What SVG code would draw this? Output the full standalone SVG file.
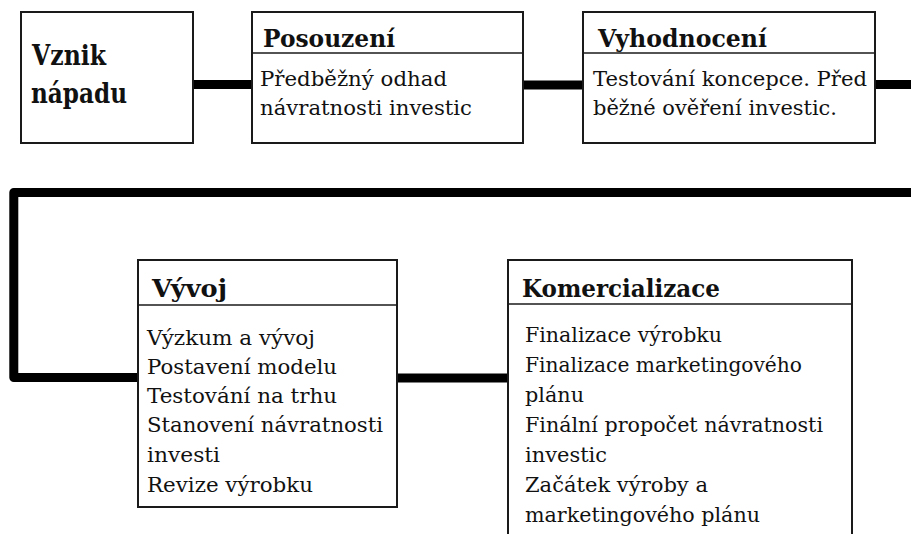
<svg xmlns="http://www.w3.org/2000/svg" width="911" height="534" viewBox="0 0 911 534">
<style>
.box{fill:#fff;stroke:#1a1a1a;stroke-width:2}
.div{stroke:#1a1a1a;stroke-width:1.5}
.conn{fill:none;stroke:#000;stroke-width:9;stroke-linejoin:round}
.t{font-family:"DejaVu Serif","Liberation Serif",serif;font-size:25px;font-weight:bold;fill:#111}
.b{font-family:"DejaVu Serif","Liberation Serif",serif;font-size:20px;fill:#111}
.big{font-family:"DejaVu Serif","Liberation Serif",serif;font-size:28px;font-weight:bold;fill:#111}
</style>
<rect width="911" height="534" fill="#fff"/>
<g id="connectors">
<line class="conn" x1="193" y1="84.5" x2="252" y2="84.5"/>
<line class="conn" x1="523" y1="85" x2="583" y2="85"/>
<line class="conn" x1="875" y1="84.5" x2="915" y2="84.5"/>
<polyline class="conn" points="915,192.5 13.8,192.5 13.8,377.5 138,377.5"/>
<line class="conn" x1="397" y1="378" x2="508" y2="378"/>
</g>
<g id="vznik">
<rect class="box" x="21" y="12" width="172" height="131"/>
<text class="big" x="32" y="65" textLength="74" lengthAdjust="spacingAndGlyphs">Vznik</text>
<text class="big" x="31" y="103" textLength="96" lengthAdjust="spacingAndGlyphs">nápadu</text>
</g>
<g id="posouzeni">
<rect class="box" x="252" y="12" width="271" height="131"/>
<line class="div" x1="252" y1="53" x2="523" y2="53"/>
<text class="t" x="263" y="47" textLength="132" lengthAdjust="spacingAndGlyphs">Posouzení</text>
<text class="b" x="260" y="86" textLength="187" lengthAdjust="spacingAndGlyphs">Předběžný odhad</text>
<text class="b" x="260" y="115" textLength="212" lengthAdjust="spacingAndGlyphs">návratnosti investic</text>
</g>
<g id="vyhodnoceni">
<rect class="box" x="583" y="12" width="292" height="131"/>
<line class="div" x1="583" y1="53" x2="875" y2="53"/>
<text class="t" x="598" y="47" textLength="169" lengthAdjust="spacingAndGlyphs">Vyhodnocení</text>
<text class="b" x="593" y="86" textLength="274" lengthAdjust="spacingAndGlyphs">Testování koncepce. Před</text>
<text class="b" x="593" y="115" textLength="244" lengthAdjust="spacingAndGlyphs">běžné ověření investic.</text>
</g>
<g id="vyvoj">
<rect class="box" x="138" y="260" width="259" height="247"/>
<line class="div" x1="138" y1="305" x2="397" y2="305"/>
<text class="t" x="152" y="297" textLength="75" lengthAdjust="spacingAndGlyphs">Vývoj</text>
<text class="b" x="147" y="345" textLength="168" lengthAdjust="spacingAndGlyphs">Výzkum a vývoj</text>
<text class="b" x="147" y="374" textLength="190" lengthAdjust="spacingAndGlyphs">Postavení modelu</text>
<text class="b" x="147" y="403" textLength="190" lengthAdjust="spacingAndGlyphs">Testování na trhu</text>
<text class="b" x="147" y="432" textLength="236" lengthAdjust="spacingAndGlyphs">Stanovení návratnosti</text>
<text class="b" x="147" y="462" textLength="73" lengthAdjust="spacingAndGlyphs">investi</text>
<text class="b" x="147" y="492" textLength="166" lengthAdjust="spacingAndGlyphs">Revize výrobku</text>
</g>
<g id="komercializace">
<rect class="box" x="508" y="260" width="344" height="290"/>
<line class="div" x1="508" y1="304" x2="852" y2="304"/>
<text class="t" x="522" y="297" textLength="198" lengthAdjust="spacingAndGlyphs">Komercializace</text>
<text class="b" x="525" y="342" textLength="197" lengthAdjust="spacingAndGlyphs">Finalizace výrobku</text>
<text class="b" x="525" y="372" textLength="277" lengthAdjust="spacingAndGlyphs">Finalizace marketingového</text>
<text class="b" x="525" y="402" textLength="59" lengthAdjust="spacingAndGlyphs">plánu</text>
<text class="b" x="525" y="432" textLength="298" lengthAdjust="spacingAndGlyphs">Finální propočet návratnosti</text>
<text class="b" x="525" y="462" textLength="82" lengthAdjust="spacingAndGlyphs">investic</text>
<text class="b" x="525" y="492" textLength="183" lengthAdjust="spacingAndGlyphs">Začátek výroby a</text>
<text class="b" x="525" y="522" textLength="235" lengthAdjust="spacingAndGlyphs">marketingového plánu</text>
</g>
</svg>
